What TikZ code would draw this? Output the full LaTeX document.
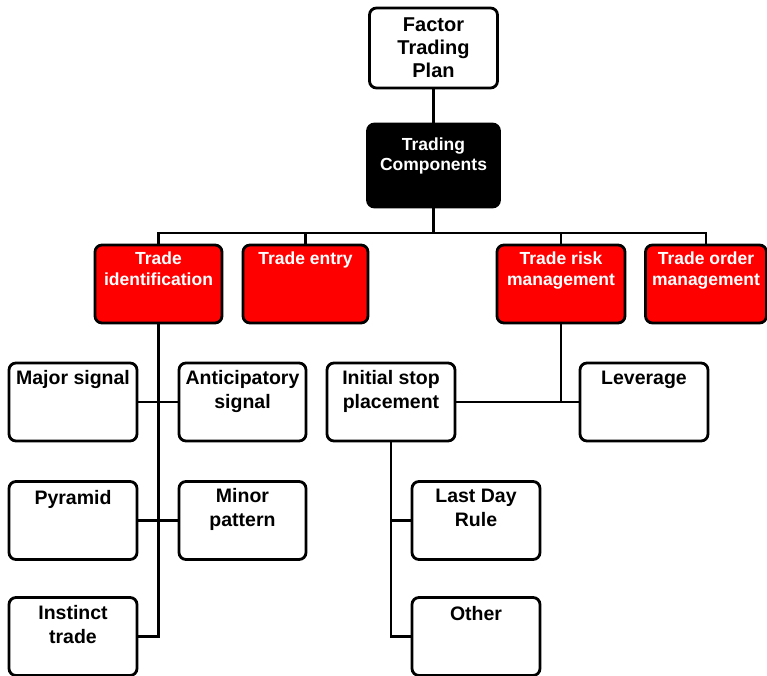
\documentclass[tikz,border=0pt]{standalone}
\usepackage{fontspec}
\setmainfont{Liberation Sans}
\begin{document}
\begin{tikzpicture}[x=1pt,y=-1pt,
  box/.style={draw=black, line width=2.8pt, rounded corners=7pt, inner sep=0pt},
  wbox/.style={box, fill=white, minimum width=128pt, minimum height=78pt},
  rbox/.style={box, fill=red, minimum width=127pt, minimum height=78pt},
  kbox/.style={box, fill=black, minimum width=132pt, minimum height=83pt},
  ftxt/.style={align=center, inner sep=0pt, anchor=base, font=\fontsize{20}{23}\selectfont\bfseries},
  wtxt/.style={align=center, inner sep=0pt, anchor=base, font=\fontsize{19.5}{24}\selectfont\bfseries},
  rtxt/.style={align=center, inner sep=0pt, anchor=base, text=white, font=\fontsize{17.5}{21}\selectfont\bfseries},
  ktxt/.style={align=center, inner sep=0pt, anchor=base, text=white, font=\fontsize{17.5}{20}\selectfont\bfseries},
  conn/.style={draw=black, line width=2.8pt}
]
\useasboundingbox (0,0) rectangle (767,676);

% level 0 and 1
\node[wbox, minimum height=80pt] (ftp) at (433.5,48) {};
\node[kbox] (tc) at (433.5,165.5) {};

% red component boxes
\node[rbox] (ti) at (158.5,284) {};
\node[rbox, minimum width=125pt] (te) at (305.5,284) {};
\node[rbox, minimum width=128pt] (trm) at (561,284) {};
\node[rbox, minimum width=121pt] (tom) at (706,284) {};

% trade identification branch
\node[wbox] (ms) at (73,402) {};
\node[wbox, minimum width=127pt] (as) at (242.5,402) {};
\node[wbox] (py) at (73,520.5) {};
\node[wbox, minimum width=127pt] (mp) at (242.5,520.5) {};
\node[wbox] (it) at (73,636.5) {};

% trade risk management branch
\node[wbox] (isp) at (391,402) {};
\node[wbox] (lev) at (644,402) {};
\node[wbox] (ldr) at (476,520.5) {};
\node[wbox] (ot) at (476,636.5) {};

% connectors
\coordinate (bus) at (0,233);
\draw[conn] (ftp.south) -- (tc.north);
\draw[conn] (tc.south) -- (tc.south |- bus);
\draw[conn] (ti.north) -- (ti.north |- bus) -- (tom.north |- bus) -- (tom.north);
\draw[conn] (te.north) -- (te.north |- bus);
\draw[conn] (trm.north) -- (trm.north |- bus);

\draw[conn] (ti.south) -- (ti.south |- it.east) -- (it.east);
\draw[conn] (ms.east) -- (as.west);
\draw[conn] (py.east) -- (mp.west);

\draw[conn] (trm.south) -- (trm.south |- lev.west);
\draw[conn] (isp.east) -- (lev.west);
\draw[conn] (isp.south) -- (isp.south |- ot.west) -- (ot.west);
\draw[conn] (isp.south |- ldr.west) -- (ldr.west);

% texts (base anchor sits on the last line)
\node[ftxt] (ftp-t) at ([yshift=-71pt]ftp.north) {Factor\\Trading\\Plan};
\node[ktxt] (tc-t) at ([yshift=-48pt]tc.north) {Trading\\Components};
\node[rtxt] (ti-t) at ([yshift=-42pt]ti.north) {Trade\\identification};
\node[rtxt] (te-t) at ([yshift=-21pt]te.north) {Trade entry};
\node[rtxt] (trm-t) at ([yshift=-42pt]trm.north) {Trade risk\\management};
\node[rtxt] (tom-t) at ([yshift=-42pt]tom.north) {Trade order\\management};
\node[wtxt] (ms-t) at ([yshift=-23pt]ms.north) {Major signal};
\node[wtxt] (as-t) at ([yshift=-47pt]as.north) {Anticipatory\\signal};
\node[wtxt] (py-t) at ([yshift=-24pt]py.north) {Pyramid};
\node[wtxt] (mp-t) at ([yshift=-46pt]mp.north) {Minor\\pattern};
\node[wtxt] (it-t) at ([yshift=-47pt]it.north) {Instinct\\trade};
\node[wtxt] (isp-t) at ([yshift=-47pt]isp.north) {Initial stop\\placement};
\node[wtxt] (lev-t) at ([yshift=-23pt]lev.north) {Leverage};
\node[wtxt] (ldr-t) at ([yshift=-46pt]ldr.north) {Last Day\\Rule};
\node[wtxt] (ot-t) at ([yshift=-24pt]ot.north) {Other};
\end{tikzpicture}
\end{document}
